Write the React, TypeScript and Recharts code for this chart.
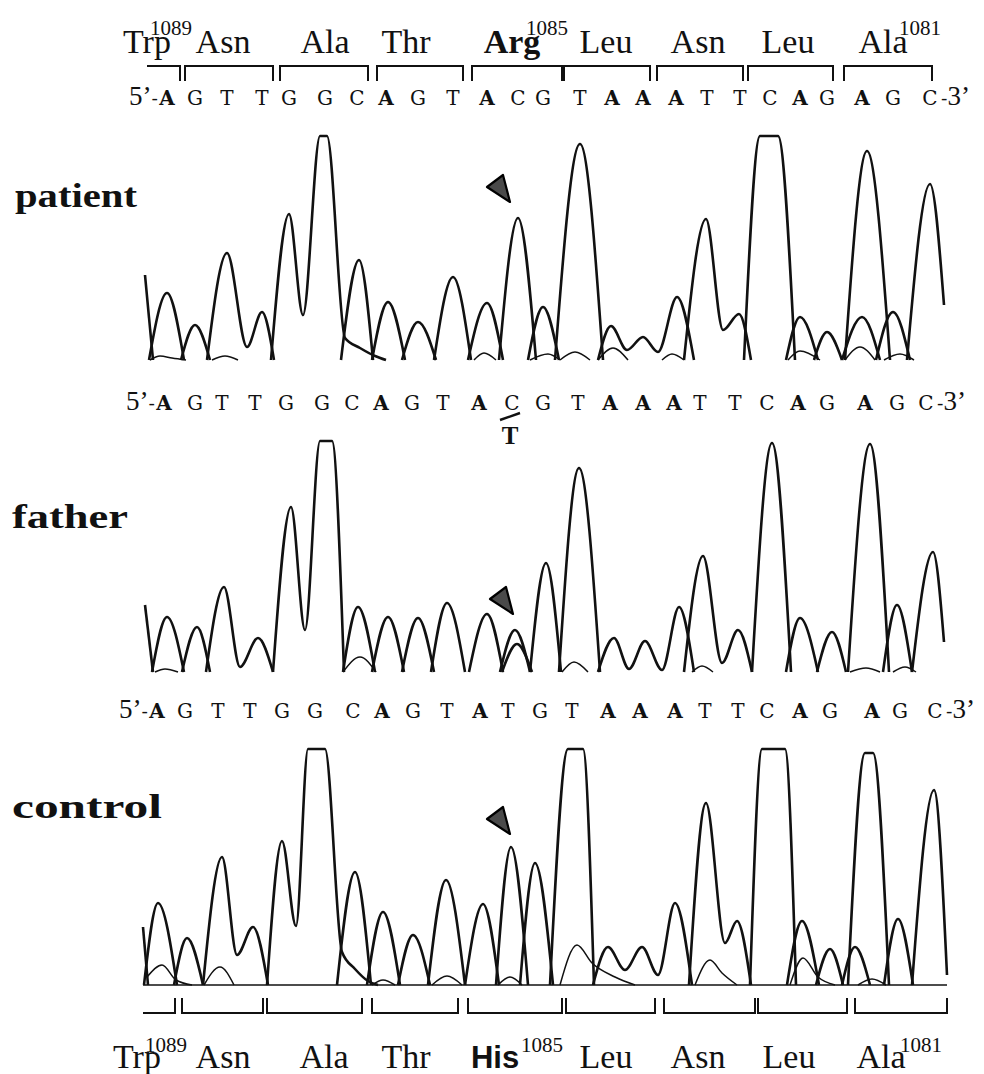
import React from "react";
import { LineChart, Line, XAxis, YAxis, ReferenceDot } from "recharts";

type Pt = [number, number];

// called bases and where each call sits along the trace (scan position)
const patientBases = "AGTTGGCAGTACGTAAATTCAGAGC".split("");
const fatherBases = "AGTTGGCAGTACGTAAATTCAGAGC".split("");
const controlBases = "AGTTGGCAGTATGTAAATTCAGAGC".split("");

const patientCalls = [167, 195, 227, 262, 289, 325, 357, 386, 418, 453, 487, 518, 543, 580, 612, 643, 676, 707, 740, 770, 800, 827, 862, 893, 930];
const fatherCalls = [164, 195, 222, 255, 286, 322, 352, 381, 412, 443, 479, 512, 543, 578, 610, 643, 674, 700, 735, 767, 798, 827, 865, 897, 926];
const controlCalls = [157, 185, 218, 250, 282, 315, 353, 382, 413, 447, 480, 508, 540, 572, 608, 640, 675, 705, 738, 767, 800, 830, 872, 900, 935];

// heterozygous call in the father: C/T at the 12th base
const fatherAlt = { index: 11, base: "T" };

// codons (reverse strand numbering)
const topCodons = ["Trp", "Asn", "Ala", "Thr", "Arg", "Leu", "Asn", "Leu", "Ala"];
const bottomCodons = ["Trp", "Asn", "Ala", "Thr", "His", "Leu", "Asn", "Leu", "Ala"];
const codonNumbers = ["1089", "", "", "", "1085", "", "", "", "1081"];
const mutatedCodon = 4;

const topCodonCentres = [147, 223, 325, 406, 512, 606, 698, 788, 883];
const topCodonStarts = [147, 185, 280, 377, 472, 564, 657, 748, 844];
const topCodonEnds = [180, 273, 368, 463, 562, 650, 743, 833, 932];
const bottomCodonCentres = [137, 223, 324, 406, 495, 606, 698, 789, 881];
const bottomCodonStarts = [143, 182, 267, 372, 468, 566, 664, 758, 855];
const bottomCodonEnds = [175, 263, 362, 458, 562, 655, 755, 847, 947];

// trace vertices [scan position, signal]; runs of the same dye are kept in one trace
const patientTraces: Pt[][] = [
  [[145, 85], [153, 0]],
  [[149, 0], [167, 67], [184, 0]],
  [[181, 0], [195, 35], [210, 0]],
  [[207, 0], [227, 107], [247, 13], [262, 48], [274, 0]],
  [[271, 0], [289, 146], [303, 45], [320, 224], [327, 224], [345, 22], [360, 12], [375, 4], [386, 0]],
  [[341, 0], [359, 100], [373, 0]],
  [[372, 0], [388, 58], [405, 0]],
  [[402, 0], [418, 38], [436, 0]],
  [[434, 0], [453, 83], [471, 0]],
  [[468, 0], [487, 57], [503, 0]],
  [[499, 0], [518, 142], [536, 0]],
  [[528, 0], [543, 53], [559, 0]],
  [[555, 0], [580, 216], [603, 0]],
  [[598, 0], [611, 34], [627, 10], [643, 23], [658, 8], [677, 63], [694, 0]],
  [[684, 0], [706, 141], [723, 30], [739, 46], [751, 0]],
  [[744, 0], [760, 224], [778, 224], [795, 0]],
  [[786, 0], [800, 43], [818, 0]],
  [[814, 0], [827, 28], [842, 0]],
  [[845, 0], [867, 209], [890, 0]],
  [[842, 0], [862, 43], [880, 0]],
  [[876, 0], [893, 48], [910, 0]],
  [[907, 0], [930, 176], [944, 55]],
];
const patientNoise: Pt[][] = [
  [[150, 0], [160, 4], [172, 2], [186, 0]],
  [[212, 0], [225, 4], [238, 0]],
  [[474, 0], [484, 7], [496, 0]],
  [[530, 0], [548, 6], [560, 0]],
  [[560, 0], [575, 8], [590, 0]],
  [[598, 0], [613, 12], [628, 0]],
  [[662, 0], [672, 6], [684, 0]],
  [[788, 0], [800, 9], [820, 0]],
  [[845, 0], [860, 13], [875, 0]],
  [[884, 0], [900, 6], [914, 0]],
];

const fatherTraces: Pt[][] = [
  [[145, 67], [153, 0]],
  [[152, 0], [167, 55], [184, 0]],
  [[182, 0], [197, 45], [210, 0]],
  [[206, 0], [224, 85], [240, 5], [258, 34], [273, 0]],
  [[273, 0], [291, 165], [305, 42], [320, 231], [332, 231], [344, 0]],
  [[343, 0], [358, 65], [375, 0]],
  [[372, 0], [388, 55], [404, 0]],
  [[402, 0], [418, 54], [434, 0]],
  [[431, 0], [447, 69], [465, 0]],
  [[469, 0], [487, 58], [503, 0]],
  [[500, 0], [515, 42], [530, 0]],
  [[502, 0], [517, 28], [532, 0]],
  [[530, 0], [546, 109], [561, 0]],
  [[559, 0], [579, 204], [600, 0]],
  [[598, 0], [614, 34], [629, 3], [645, 31], [662, 2], [679, 65], [694, 0]],
  [[684, 0], [703, 116], [722, 9], [738, 42], [752, 0]],
  [[752, 0], [772, 229], [791, 0]],
  [[786, 0], [800, 54], [818, 0]],
  [[817, 0], [832, 40], [846, 0]],
  [[848, 0], [870, 228], [889, 0]],
  [[883, 0], [897, 67], [912, 0]],
  [[912, 0], [933, 120], [944, 30]],
];
const fatherNoise: Pt[][] = [
  [[155, 0], [165, 3], [178, 0]],
  [[343, 0], [360, 15], [376, 0]],
  [[562, 0], [574, 10], [588, 0]],
  [[692, 0], [702, 6], [713, 0]],
  [[850, 0], [866, 4], [880, 0]],
  [[893, 0], [905, 5], [916, 0]],
];

const controlTraces: Pt[][] = [
  [[143, 58], [148, 0]],
  [[144, 0], [158, 82], [177, 0]],
  [[174, 0], [187, 47], [203, 0]],
  [[203, 0], [222, 128], [237, 30], [253, 58], [268, 0]],
  [[267, 0], [282, 144], [296, 59], [308, 236], [325, 236], [342, 33], [355, 16], [368, 4], [378, 0]],
  [[337, 0], [355, 113], [371, 0]],
  [[367, 0], [383, 73], [400, 0]],
  [[398, 0], [413, 50], [430, 0]],
  [[428, 0], [446, 105], [465, 0]],
  [[465, 0], [483, 81], [499, 0]],
  [[496, 0], [511, 138], [528, 0]],
  [[520, 0], [535, 122], [553, 0]],
  [[550, 0], [568, 236], [583, 236], [594, 0]],
  [[593, 0], [608, 38], [625, 15], [642, 38], [658, 10], [675, 82], [692, 0]],
  [[689, 0], [706, 182], [725, 42], [737, 64], [751, 0]],
  [[750, 0], [762, 236], [785, 236], [796, 0]],
  [[787, 0], [802, 64], [819, 0]],
  [[816, 0], [830, 36], [843, 0]],
  [[842, 0], [855, 38], [870, 0]],
  [[848, 0], [865, 232], [873, 232], [889, 0]],
  [[884, 0], [898, 66], [913, 0]],
  [[912, 0], [934, 195], [947, 10]],
];
const controlNoise: Pt[][] = [
  [[143, 0], [947, 0]],
  [[147, 8], [162, 20], [176, 5], [192, 0]],
  [[204, 0], [220, 18], [234, 0]],
  [[372, 0], [383, 5], [395, 0]],
  [[432, 0], [447, 9], [462, 0]],
  [[498, 0], [510, 8], [522, 0]],
  [[560, 0], [577, 40], [592, 22], [615, 8], [635, 0]],
  [[695, 0], [710, 25], [722, 12], [737, 0]],
  [[790, 0], [803, 27], [818, 8], [835, 0]],
  [[858, 0], [872, 6], [886, 0]],
];

// arrowhead marking the mutated base [scan position, signal]
const patientArrow: Pt = [500, 172];
const fatherArrow: Pt = [503, 72];
const controlArrow: Pt = [500, 165];

const W = 984;
const DOMAIN: [number, number] = [140, 950];
const INK = "#111";
// superscript nudge to the right of each codon label
const SUP_DX_TOP = [3, 0, 0, 0, 14, 0, 0, 0, 16];
const SUP_DX_BOTTOM = [8, 0, 0, 0, 26, 0, 0, 0, 19];

const toRows = (pts: Pt[]) => pts.map(([x, y]) => ({ x, y }));

const panels = [
  { name: "patient", bases: patientBases, calls: patientCalls, traces: patientTraces, noise: patientNoise, arrow: patientArrow, ceiling: 224, plotTop: 136, plotBottom: 360, labelX: 15, labelY: 207, labelW: 122, alt: null },
  { name: "father", bases: fatherBases, calls: fatherCalls, traces: fatherTraces, noise: fatherNoise, arrow: fatherArrow, ceiling: 231, plotTop: 441, plotBottom: 672, labelX: 12, labelY: 528, labelW: 116, alt: fatherAlt },
  { name: "control", bases: controlBases, calls: controlCalls, traces: controlTraces, noise: controlNoise, arrow: controlArrow, ceiling: 236, plotTop: 749, plotBottom: 985, labelX: 12, labelY: 818, labelW: 150, alt: null },
];

function SeqTick(props: any) {
  const { x, y, index, bases, alt } = props;
  const b = bases[index];
  const base = y - 31;
  const last = index === bases.length - 1;
  return (
    <g>
      {index === 0 && (
        <text x={x - 9} y={base} textAnchor="end" fill={INK}>
          <tspan fontFamily="Liberation Serif" fontSize={27}>5’</tspan>
          <tspan fontFamily="DejaVu Serif" fontSize={19}>-</tspan>
        </text>
      )}
      <text x={x} y={base} textAnchor="middle" fontFamily="DejaVu Serif" fontSize={20} fontWeight={b === "A" ? 700 : 400} fill={INK}>
        {b}
      </text>
      {last && (
        <text x={x + 11} y={base} textAnchor="start" fill={INK}>
          <tspan fontFamily="DejaVu Serif" fontSize={19}>-</tspan>
          <tspan fontFamily="Liberation Serif" fontSize={27}>3’</tspan>
        </text>
      )}
      {alt && alt.index === index && (
        <g>
          <line x1={x - 12} y1={base + 10} x2={x + 8} y2={base + 3} stroke={INK} strokeWidth={2.5} />
          <text x={x - 2} y={base + 34} textAnchor="middle" fontFamily="Liberation Serif" fontWeight={700} fontSize={25} fill={INK}>
            {alt.base}
          </text>
        </g>
      )}
    </g>
  );
}

function CodonTick(props: any) {
  const { x, y, index, names, top } = props;
  const name = names[index];
  const sup = codonNumbers[index];
  const bold = index === mutatedCodon;
  const base = top ? y - 13 : y + 55;
  const supBase = top ? y - 31 : y + 39;
  const dx = (top ? SUP_DX_TOP : SUP_DX_BOTTOM)[index];
  return (
    <g>
      <text
        x={x}
        y={base}
        textAnchor="middle"
        fontFamily={bold && !top ? "Liberation Sans" : "Liberation Serif"}
        fontWeight={bold ? 700 : 400}
        fontSize={bold && !top ? 31 : 34}
        fill={INK}
      >
        {name}
      </text>
      {sup && (
        <text x={x + dx} y={supBase} fontFamily="Liberation Serif" fontSize={21} fill={INK}>
          {sup}
        </text>
      )}
    </g>
  );
}

const Arrowhead = (p: any) => (
  <path
    d={`M${p.cx - 13},${p.cy - 1} L${p.cx + 3},${p.cy - 13} L${p.cx + 10},${p.cy + 14} Z`}
    fill="#4a4a4a"
    stroke="#000"
    strokeWidth={2.2}
    strokeLinejoin="round"
  />
);

function CodonBar({ top }: { top: boolean }) {
  const names = top ? topCodons : bottomCodons;
  const centres = top ? topCodonCentres : bottomCodonCentres;
  const starts = top ? topCodonStarts : bottomCodonStarts;
  const ends = top ? topCodonEnds : bottomCodonEnds;
  const hy = top ? 1 : 0;
  const ty = top ? 0 : 1;
  return (
    <div style={{ position: "absolute", left: 0, top: 0 }}>
      <LineChart
        width={W}
        height={top ? 82 : 1074}
        margin={top ? { top: 0, right: 34, left: 140, bottom: 1 } : { top: 998, right: 34, left: 140, bottom: 0 }}
      >
        <XAxis
          type="number"
          dataKey="x"
          domain={DOMAIN}
          orientation={top ? "top" : "bottom"}
          height={top ? 66 : 61}
          ticks={centres}
          interval={0}
          axisLine={false}
          tickLine={false}
          tickSize={0}
          tickMargin={0}
          tick={(t: any) => <CodonTick {...t} names={names} top={top} />}
        />
        <YAxis hide type="number" domain={[0, 1]} />
        {starts.map((s, i) => {
          const e = ends[i];
          const pts: Pt[] = i === 0 ? [[s, hy], [e, hy], [e, ty]] : [[s, ty], [s, hy], [e, hy], [e, ty]];
          return (
            <Line
              key={i}
              data={toRows(pts)}
              dataKey="y"
              type="linear"
              stroke={INK}
              strokeWidth={2}
              dot={false}
              activeDot={false}
              legendType="none"
              isAnimationActive={false}
            />
          );
        })}
      </LineChart>
    </div>
  );
}

function Panel({ p }: { p: (typeof panels)[number] }) {
  const axisH = 50;
  return (
    <div style={{ position: "absolute", left: 0, top: 0 }}>
      <LineChart width={W} height={p.plotBottom + 3} margin={{ top: p.plotTop - axisH, right: 34, left: 140, bottom: 3 }}>
        <XAxis
          type="number"
          dataKey="x"
          domain={DOMAIN}
          orientation="top"
          height={axisH}
          ticks={p.calls}
          interval={0}
          axisLine={false}
          tickLine={false}
          tickSize={0}
          tickMargin={0}
          tick={(t: any) => <SeqTick {...t} bases={p.bases} alt={p.alt} />}
        />
        <YAxis hide type="number" domain={[0, p.ceiling]} />
        {p.noise.map((tr, i) => (
          <Line
            key={`n${i}`}
            data={toRows(tr)}
            dataKey="y"
            type="monotone"
            stroke={INK}
            strokeWidth={1.5}
            dot={false}
            activeDot={false}
            legendType="none"
            isAnimationActive={false}
          />
        ))}
        {p.traces.map((tr, i) => (
          <Line
            key={`t${i}`}
            data={toRows(tr)}
            dataKey="y"
            type="monotone"
            stroke={INK}
            strokeWidth={2.6}
            dot={false}
            activeDot={false}
            legendType="none"
            isAnimationActive={false}
          />
        ))}
        <ReferenceDot x={p.arrow[0]} y={p.arrow[1]} ifOverflow="visible" shape={Arrowhead} />
      </LineChart>
    </div>
  );
}

export default function App() {
  return (
    <div style={{ position: "absolute", left: 0, top: 0, width: W, height: 1074, background: "#fff", overflow: "hidden" }}>
      <svg width={W} height={1074} style={{ position: "absolute", left: 0, top: 0 }}>
        {panels.map((p) => (
          <text
            key={p.name}
            x={p.labelX}
            y={p.labelY}
            fontFamily="Liberation Serif"
            fontWeight={700}
            fontSize={33}
            textLength={p.labelW}
            lengthAdjust="spacingAndGlyphs"
            fill={INK}
          >
            {p.name}
          </text>
        ))}
      </svg>
      <CodonBar top={true} />
      {panels.map((p) => (
        <Panel key={p.name} p={p} />
      ))}
      <CodonBar top={false} />
    </div>
  );
}
